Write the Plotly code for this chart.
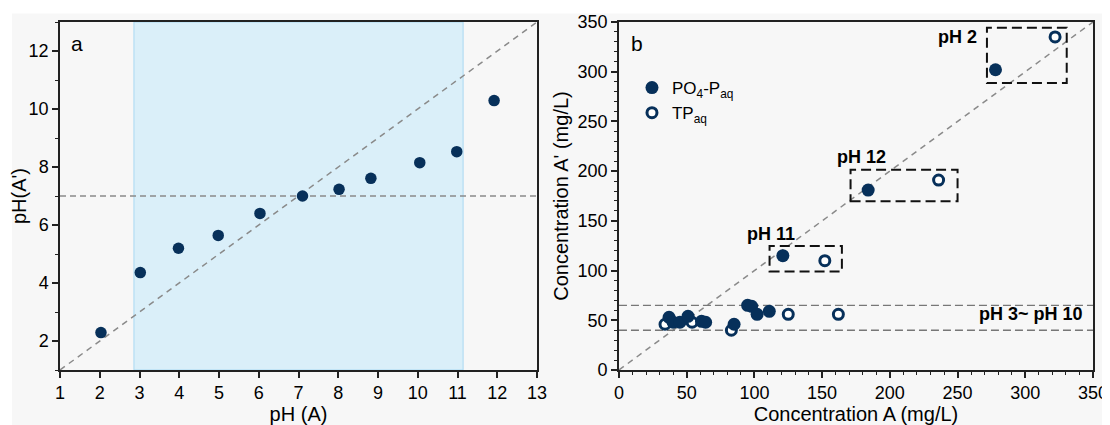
import plotly.graph_objects as go

# ---- Panel a data ----
ph_a = [2.03, 3.02, 3.98, 4.98, 6.03, 7.10, 8.02, 8.82, 10.05, 10.98, 11.92]
ph_a_prime = [2.29, 4.36, 5.20, 5.64, 6.40, 7.00, 7.23, 7.61, 8.15, 8.53, 10.29]
shade_range = [2.86, 11.14]

# ---- Panel b data ----
po4_a = [37, 40, 45, 51, 61, 64, 85, 95, 98, 102, 111, 121, 184, 278]
po4_a_prime = [53, 48, 48, 54, 49, 48, 46, 65, 64, 56, 59, 115, 181, 302]
tp_a = [34, 54, 83, 125, 152, 162, 236, 322]
tp_a_prime = [46, 48, 40, 56, 110, 56, 191, 335]
band_lines = [65, 40]
boxes = {"pH 2": [271.7, 330.6, 288.6, 344.3],
         "pH 12": [171, 250, 169.8, 201.5],
         "pH 11": [111.2, 164.6, 99.1, 124.8]}
labels = [("pH 2", 266, 335, "right"), ("pH 12", 179, 214, "center"),
          ("pH 11", 112, 137, "center"), ("pH 3~ pH 10", 344, 56, "right")]

NAVY = "#07305a"
BG = "#f7f7f7"
FONT = "Liberation Sans, Arial, sans-serif"

fig = go.Figure()

fig.add_trace(go.Scatter(x=ph_a, y=ph_a_prime, mode="markers", xaxis="x", yaxis="y",
                         marker=dict(color=NAVY, size=11.5), showlegend=False))
fig.add_trace(go.Scatter(x=tp_a, y=tp_a_prime, mode="markers", xaxis="x2", yaxis="y2",
                         name="TP<sub>aq</sub>", legendrank=2, legendgroup="tp",
                         marker=dict(color="white", size=10, line=dict(color=NAVY, width=3))))
fig.add_trace(go.Scatter(x=po4_a, y=po4_a_prime, mode="markers", xaxis="x2", yaxis="y2",
                         name="PO<sub>4</sub>-P<sub>aq</sub>", legendrank=1, legendgroup="po4",
                         marker=dict(color=NAVY, size=13)))

shapes = [
    dict(type="rect", xref="paper", yref="paper", x0=-0.0465, x1=1.05, y0=-0.2, y1=1.0244,
         fillcolor=BG, line=dict(width=0), layer="below"),
    dict(type="rect", xref="x", yref="y", x0=shade_range[0], x1=shade_range[1], y0=1, y1=13,
         fillcolor="#daeff9", line=dict(color="#a9d9f2", width=1), layer="below"),
    dict(type="line", xref="x", yref="y", x0=1, y0=1, x1=13, y1=13,
         line=dict(color="#8a8a8a", width=1.5, dash="6px,5px"), layer="below"),
    dict(type="line", xref="x", yref="y", x0=1, y0=7, x1=13, y1=7,
         line=dict(color="#8a8a8a", width=1.5, dash="6px,4px"), layer="below"),
    dict(type="line", xref="x2", yref="y2", x0=0, y0=0, x1=350, y1=350,
         line=dict(color="#8a8a8a", width=1.5, dash="6px,5px"), layer="below"),
]
for yv in band_lines:
    shapes.append(dict(type="line", xref="x2", yref="y2", x0=0, y0=yv, x1=350, y1=yv,
                       line=dict(color="#777777", width=1.3, dash="8px,4px"), layer="below"))
for k, (x0, x1, y0, y1) in boxes.items():
    shapes.append(dict(type="rect", xref="x2", yref="y2", x0=x0, x1=x1, y0=y0, y1=y1,
                       line=dict(color="#111111", width=2, dash="10px,5px"), layer="below"))

annotations = [
    dict(text="a", x=1.42, y=12.25, xref="x", yref="y", showarrow=False,
         font=dict(size=21, color="black", family=FONT), xanchor="center", yanchor="middle"),
    dict(text="b", x=13.3, y=328.5, xref="x2", yref="y2", showarrow=False,
         font=dict(size=21, color="black", family=FONT), xanchor="center", yanchor="middle"),
]
for t, x, y, anc in labels:
    annotations.append(dict(text="<b>%s</b>" % t, x=x, y=y, xref="x2", yref="y2", showarrow=False,
                            xanchor=anc, yanchor="middle",
                            font=dict(size=18, color="black", family=FONT)))

axis_common = dict(showline=True, linecolor="#222222", linewidth=1.5, mirror=True,
                   ticks="outside", ticklen=6, tickwidth=1.5, tickcolor="#222222",
                   showgrid=False, zeroline=False, automargin=False,
                   tickfont=dict(size=18, color="black", family=FONT))

# page body has an 8px default margin: size/margins compensate for it
fig.update_layout(
    width=1102, height=417,
    margin=dict(l=52, r=17, t=13.5, b=54.5),
    paper_bgcolor="white", plot_bgcolor=BG,
    font=dict(family=FONT, color="black"),
    xaxis=dict(domain=[0, 0.4618], range=[1, 13], tick0=1, dtick=1,
               title=dict(text="pH (A)", font=dict(size=20), standoff=4), **axis_common),
    yaxis=dict(domain=[0, 1], range=[1, 13], tick0=0, dtick=2,
               minor=dict(ticks="outside", dtick=1, ticklen=3.5, tickcolor="#222222", tickwidth=1.2),
               title=dict(text="pH(A')", font=dict(size=20), standoff=6), **axis_common),
    xaxis2=dict(domain=[0.5411, 1], range=[0, 350], dtick=50, anchor="y2",
                minor=dict(ticks="outside", dtick=10, ticklen=3.5, tickcolor="#222222", tickwidth=1.2),
                title=dict(text="Concentration A (mg/L)", font=dict(size=20), standoff=4), **axis_common),
    yaxis2=dict(domain=[0, 1], range=[0, 350], dtick=50, anchor="x2",
                minor=dict(ticks="outside", dtick=10, ticklen=3.5, tickcolor="#222222", tickwidth=1.2),
                title=dict(text="Concentration A' (mg/L)", font=dict(size=20), standoff=4), **axis_common),
    shapes=shapes, annotations=annotations,
    legend=dict(x=0.5537, y=0.862, xanchor="left", yanchor="top", bgcolor="rgba(0,0,0,0)",
                font=dict(size=17, family=FONT, color="black"), tracegroupgap=0),
    showlegend=True,
)

fig.write_html("out.html")
